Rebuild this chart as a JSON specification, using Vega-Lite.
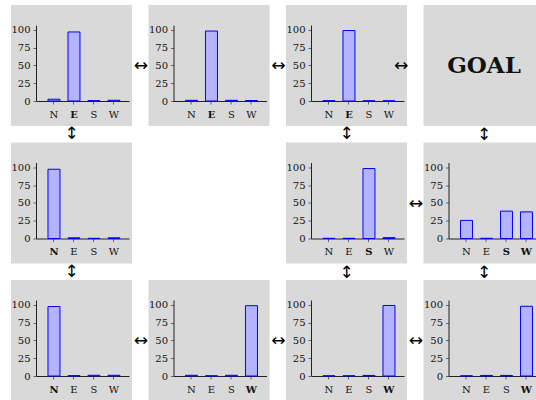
{
  "$schema": "https://vega.github.io/schema/vega-lite/v6.json",
  "padding": {"left": 10, "top": 5, "right": 0, "bottom": 0},
  "background": "white",
  "config": {
    "view": {"fill": "#d9d9d9", "stroke": null},
    "axis": {
      "labelFont": "DejaVu Serif", "labelFontSize": 10, "labelColor": "#111",
      "domainColor": "#222", "domainWidth": 1, "tickColor": "#666", "tickSize": 3,
      "grid": false, "offset": -25,
      "titleFont": "DejaVu Sans", "titleFontSize": 17, "titleFontWeight": "normal", "titleColor": "#000",
      "titleAlign": "center", "titleBaseline": "middle"
    },
    "axisX": {"labelAngle": 0, "labelPadding": 5, "labelBaseline": "top"},
    "axisY": {"labelPadding": 3, "titleAngle": 0},
    "title": {"font": "DejaVu Sans", "fontSize": 17, "fontWeight": "normal", "color": "#000"}
  },
  "datasets": {
    "q": [
      {"cell": "r1c1", "dir": "N", "value": 2.5}, {"cell": "r1c1", "dir": "E", "value": 97.2}, {"cell": "r1c1", "dir": "S", "value": 0.5}, {"cell": "r1c1", "dir": "W", "value": 1},
      {"cell": "r1c2", "dir": "N", "value": 1}, {"cell": "r1c2", "dir": "E", "value": 98.5}, {"cell": "r1c2", "dir": "S", "value": 1}, {"cell": "r1c2", "dir": "W", "value": 0.7},
      {"cell": "r1c3", "dir": "N", "value": 0.5}, {"cell": "r1c3", "dir": "E", "value": 99.2}, {"cell": "r1c3", "dir": "S", "value": 0.3}, {"cell": "r1c3", "dir": "W", "value": 0.3},
      {"cell": "r2c1", "dir": "N", "value": 97.5}, {"cell": "r2c1", "dir": "E", "value": 1}, {"cell": "r2c1", "dir": "S", "value": 0.3}, {"cell": "r2c1", "dir": "W", "value": 1},
      {"cell": "r2c3", "dir": "N", "value": 0.3}, {"cell": "r2c3", "dir": "E", "value": 0.3}, {"cell": "r2c3", "dir": "S", "value": 98.5}, {"cell": "r2c3", "dir": "W", "value": 1.2},
      {"cell": "r2c4", "dir": "N", "value": 25.5}, {"cell": "r2c4", "dir": "E", "value": 0.3}, {"cell": "r2c4", "dir": "S", "value": 38.5}, {"cell": "r2c4", "dir": "W", "value": 37.5},
      {"cell": "r3c1", "dir": "N", "value": 97.8}, {"cell": "r3c1", "dir": "E", "value": 0.5}, {"cell": "r3c1", "dir": "S", "value": 1}, {"cell": "r3c1", "dir": "W", "value": 1},
      {"cell": "r3c2", "dir": "N", "value": 1}, {"cell": "r3c2", "dir": "E", "value": 0.3}, {"cell": "r3c2", "dir": "S", "value": 1}, {"cell": "r3c2", "dir": "W", "value": 99},
      {"cell": "r3c3", "dir": "N", "value": 0.3}, {"cell": "r3c3", "dir": "E", "value": 0.3}, {"cell": "r3c3", "dir": "S", "value": 0.8}, {"cell": "r3c3", "dir": "W", "value": 99.3},
      {"cell": "r3c4", "dir": "N", "value": 0.3}, {"cell": "r3c4", "dir": "E", "value": 0.8}, {"cell": "r3c4", "dir": "S", "value": 0.8}, {"cell": "r3c4", "dir": "W", "value": 98.2}
    ]
  },
  "columns": 4,
  "spacing": {"row": 16.5, "column": 16.5},
  "bounds": "flush",
  "concat": [
    {
      "width": 121, "height": 121,
      "title": {"text": "↕", "orient": "bottom", "frame": "group", "anchor": "middle", "offset": 8, "baseline": "middle"},
      "data": {"name": "q"},
      "transform": [{"filter": "datum.cell === 'r1c1'"}],
      "mark": {"type": "bar", "fill": "#b3b3ff", "stroke": "#0000ff", "strokeWidth": 1},
      "encoding": {
        "x": {"field": "dir", "type": "nominal", "scale": {"domain": ["N","E","S","W"], "range": [25,118], "paddingInner": 0.4, "paddingOuter": 0.525, "align": 0.57}, "axis": {"title": null, "labelFontWeight": {"condition": {"test": "datum.value === 'E'", "value": "bold"}, "value": "normal"}}},
        "y": {"field": "value", "type": "quantitative", "scale": {"domain": [0,107], "range": [96,20], "nice": false}, "axis": {"title": null, "values": [0,25,50,75,100]}}
      }
    },
    {
      "width": 121, "height": 121,
      "data": {"name": "q"},
      "transform": [{"filter": "datum.cell === 'r1c2'"}],
      "mark": {"type": "bar", "fill": "#b3b3ff", "stroke": "#0000ff", "strokeWidth": 1},
      "encoding": {
        "x": {"field": "dir", "type": "nominal", "scale": {"domain": ["N","E","S","W"], "range": [25,118], "paddingInner": 0.4, "paddingOuter": 0.525, "align": 0.57}, "axis": {"title": null, "labelFontWeight": {"condition": {"test": "datum.value === 'E'", "value": "bold"}, "value": "normal"}}},
        "y": {"field": "value", "type": "quantitative", "scale": {"domain": [0,107], "range": [96,20], "nice": false}, "axis": {"title": "↔", "titleX": -33.25, "titleY": 60.5, "values": [0,25,50,75,100]}}
      }
    },
    {
      "width": 121, "height": 121,
      "title": {"text": "↕", "orient": "bottom", "frame": "group", "anchor": "middle", "offset": 8, "baseline": "middle"},
      "data": {"name": "q"},
      "transform": [{"filter": "datum.cell === 'r1c3'"}],
      "mark": {"type": "bar", "fill": "#b3b3ff", "stroke": "#0000ff", "strokeWidth": 1},
      "encoding": {
        "x": {"field": "dir", "type": "nominal", "scale": {"domain": ["N","E","S","W"], "range": [25,118], "paddingInner": 0.4, "paddingOuter": 0.525, "align": 0.57}, "axis": {"title": null, "labelFontWeight": {"condition": {"test": "datum.value === 'E'", "value": "bold"}, "value": "normal"}}},
        "y": {"field": "value", "type": "quantitative", "scale": {"domain": [0,107], "range": [96,20], "nice": false}, "axis": {"title": "↔", "titleX": -33.25, "titleY": 60.5, "values": [0,25,50,75,100]}}
      }
    },
    {
      "width": 121, "height": 121,
      "view": {"fill": "#d9d9d9", "stroke": null},
      "title": {"text": "↔", "orient": "left", "frame": "group", "anchor": "middle", "angle": 0, "offset": 8.25, "align": "center", "baseline": "middle"},
      "data": {"values": [{"label": "GOAL"}]},
      "mark": {"type": "text", "font": "DejaVu Serif", "fontSize": 23, "fontWeight": "bold", "align": "center", "baseline": "middle", "color": "#111"},
      "encoding": {"text": {"field": "label"}}
    },
    {
      "width": 121, "height": 121,
      "title": {"text": "↕", "orient": "bottom", "frame": "group", "anchor": "middle", "offset": 8, "baseline": "middle"},
      "data": {"name": "q"},
      "transform": [{"filter": "datum.cell === 'r2c1'"}],
      "mark": {"type": "bar", "fill": "#b3b3ff", "stroke": "#0000ff", "strokeWidth": 1},
      "encoding": {
        "x": {"field": "dir", "type": "nominal", "scale": {"domain": ["N","E","S","W"], "range": [25,118], "paddingInner": 0.4, "paddingOuter": 0.525, "align": 0.57}, "axis": {"title": null, "labelFontWeight": {"condition": {"test": "datum.value === 'N'", "value": "bold"}, "value": "normal"}}},
        "y": {"field": "value", "type": "quantitative", "scale": {"domain": [0,107], "range": [96,20], "nice": false}, "axis": {"title": null, "values": [0,25,50,75,100]}}
      }
    },
    {
      "width": 121, "height": 121,
      "view": {"fill": "transparent", "stroke": null},
      "data": {"values": []},
      "mark": "point",
      "encoding": {}
    },
    {
      "width": 121, "height": 121,
      "data": {"name": "q"},
      "transform": [{"filter": "datum.cell === 'r2c3'"}],
      "mark": {"type": "bar", "fill": "#b3b3ff", "stroke": "#0000ff", "strokeWidth": 1},
      "encoding": {
        "x": {"field": "dir", "type": "nominal", "scale": {"domain": ["N","E","S","W"], "range": [25,118], "paddingInner": 0.4, "paddingOuter": 0.525, "align": 0.57}, "axis": {"title": null, "labelFontWeight": {"condition": {"test": "datum.value === 'S'", "value": "bold"}, "value": "normal"}}},
        "y": {"field": "value", "type": "quantitative", "scale": {"domain": [0,107], "range": [96,20], "nice": false}, "axis": {"title": null, "values": [0,25,50,75,100]}}
      }
    },
    {
      "width": 121, "height": 121,
      "title": {"text": "↕", "orient": "top", "frame": "group", "anchor": "middle", "offset": -9.5, "baseline": "middle"},
      "data": {"name": "q"},
      "transform": [{"filter": "datum.cell === 'r2c4'"}],
      "mark": {"type": "bar", "fill": "#b3b3ff", "stroke": "#0000ff", "strokeWidth": 1},
      "encoding": {
        "x": {"field": "dir", "type": "nominal", "scale": {"domain": ["N","E","S","W"], "range": [25,118], "paddingInner": 0.4, "paddingOuter": 0.525, "align": 0.57}, "axis": {"title": null, "labelFontWeight": {"condition": {"test": "datum.value === 'S' || datum.value === 'W'", "value": "bold"}, "value": "normal"}}},
        "y": {"field": "value", "type": "quantitative", "scale": {"domain": [0,107], "range": [96,20], "nice": false}, "axis": {"title": "↔", "titleX": -33.25, "titleY": 60.5, "values": [0,25,50,75,100]}}
      }
    },
    {
      "width": 121, "height": 121,
      "data": {"name": "q"},
      "transform": [{"filter": "datum.cell === 'r3c1'"}],
      "mark": {"type": "bar", "fill": "#b3b3ff", "stroke": "#0000ff", "strokeWidth": 1},
      "encoding": {
        "x": {"field": "dir", "type": "nominal", "scale": {"domain": ["N","E","S","W"], "range": [25,118], "paddingInner": 0.4, "paddingOuter": 0.525, "align": 0.57}, "axis": {"title": null, "labelFontWeight": {"condition": {"test": "datum.value === 'N'", "value": "bold"}, "value": "normal"}}},
        "y": {"field": "value", "type": "quantitative", "scale": {"domain": [0,107], "range": [96,20], "nice": false}, "axis": {"title": null, "values": [0,25,50,75,100]}}
      }
    },
    {
      "width": 121, "height": 121,
      "data": {"name": "q"},
      "transform": [{"filter": "datum.cell === 'r3c2'"}],
      "mark": {"type": "bar", "fill": "#b3b3ff", "stroke": "#0000ff", "strokeWidth": 1},
      "encoding": {
        "x": {"field": "dir", "type": "nominal", "scale": {"domain": ["N","E","S","W"], "range": [25,118], "paddingInner": 0.4, "paddingOuter": 0.525, "align": 0.57}, "axis": {"title": null, "labelFontWeight": {"condition": {"test": "datum.value === 'W'", "value": "bold"}, "value": "normal"}}},
        "y": {"field": "value", "type": "quantitative", "scale": {"domain": [0,107], "range": [96,20], "nice": false}, "axis": {"title": "↔", "titleX": -33.25, "titleY": 60.5, "values": [0,25,50,75,100]}}
      }
    },
    {
      "width": 121, "height": 121,
      "title": {"text": "↕", "orient": "top", "frame": "group", "anchor": "middle", "offset": -9.5, "baseline": "middle"},
      "data": {"name": "q"},
      "transform": [{"filter": "datum.cell === 'r3c3'"}],
      "mark": {"type": "bar", "fill": "#b3b3ff", "stroke": "#0000ff", "strokeWidth": 1},
      "encoding": {
        "x": {"field": "dir", "type": "nominal", "scale": {"domain": ["N","E","S","W"], "range": [25,118], "paddingInner": 0.4, "paddingOuter": 0.525, "align": 0.57}, "axis": {"title": null, "labelFontWeight": {"condition": {"test": "datum.value === 'W'", "value": "bold"}, "value": "normal"}}},
        "y": {"field": "value", "type": "quantitative", "scale": {"domain": [0,107], "range": [96,20], "nice": false}, "axis": {"title": "↔", "titleX": -33.25, "titleY": 60.5, "values": [0,25,50,75,100]}}
      }
    },
    {
      "width": 121, "height": 121,
      "title": {"text": "↕", "orient": "top", "frame": "group", "anchor": "middle", "offset": -9.5, "baseline": "middle"},
      "data": {"name": "q"},
      "transform": [{"filter": "datum.cell === 'r3c4'"}],
      "mark": {"type": "bar", "fill": "#b3b3ff", "stroke": "#0000ff", "strokeWidth": 1},
      "encoding": {
        "x": {"field": "dir", "type": "nominal", "scale": {"domain": ["N","E","S","W"], "range": [25,118], "paddingInner": 0.4, "paddingOuter": 0.525, "align": 0.57}, "axis": {"title": null, "labelFontWeight": {"condition": {"test": "datum.value === 'W'", "value": "bold"}, "value": "normal"}}},
        "y": {"field": "value", "type": "quantitative", "scale": {"domain": [0,107], "range": [96,20], "nice": false}, "axis": {"title": "↔", "titleX": -33.25, "titleY": 60.5, "values": [0,25,50,75,100]}}
      }
    }
  ]
}
